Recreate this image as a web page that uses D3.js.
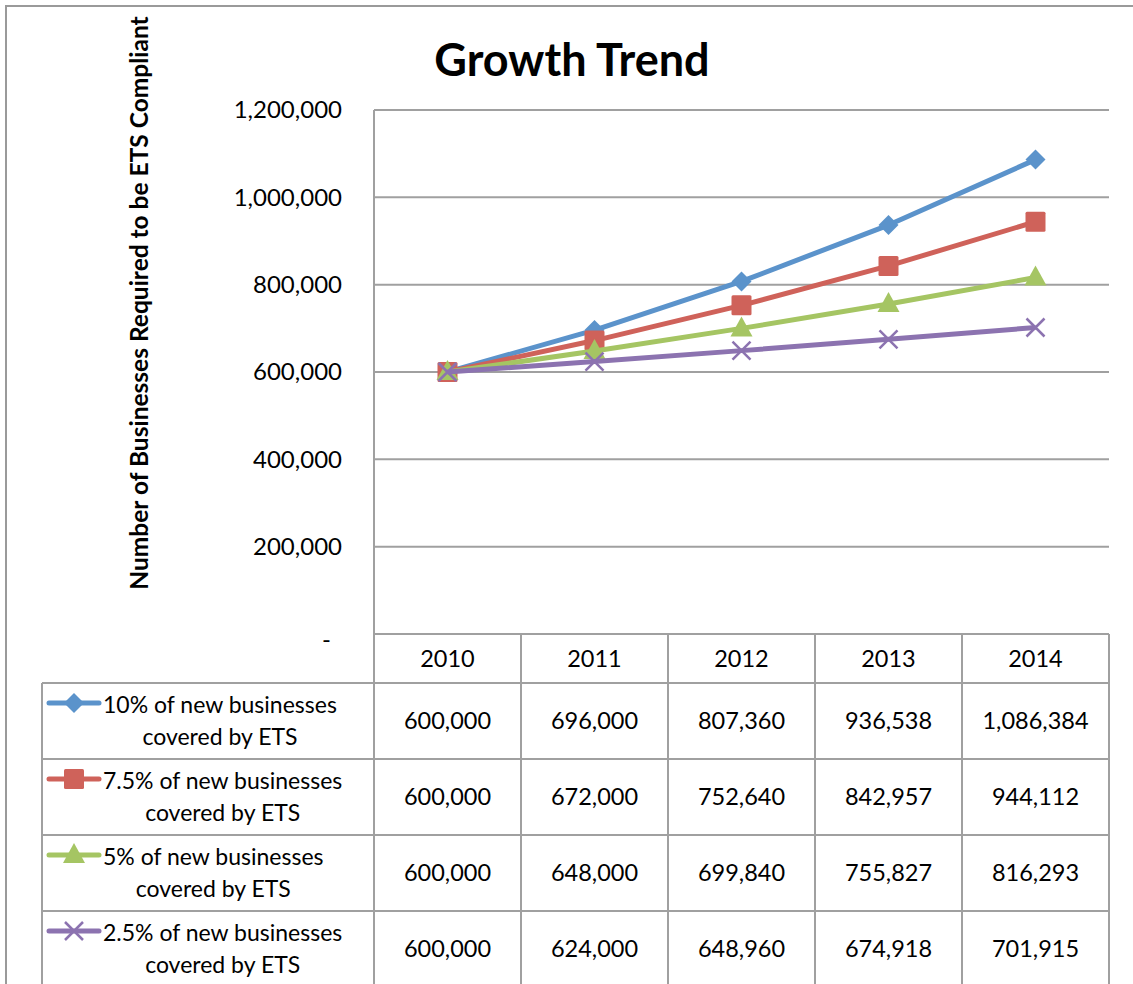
<!DOCTYPE html>
<html>
<head>
<meta charset="utf-8">
<script src="https://cdn.jsdelivr.net/npm/d3@7"></script>
<style>
  body { margin: 0; background: #fff; }
  text { font-family: Lato, "Liberation Sans", sans-serif; fill: #000; }
</style>
</head>
<body>
<script>
// chart data
var years = ["2010", "2011", "2012", "2013", "2014"];
var seriesNames = [
  ["10% of new businesses", "covered by ETS"],
  ["7.5% of new businesses", "covered by ETS"],
  ["5% of new businesses", "covered by ETS"],
  ["2.5% of new businesses", "covered by ETS"]
];
var s10 = [600000, 696000, 807360, 936538, 1086384];
var s75 = [600000, 672000, 752640, 842957, 944112];
var s5 = [600000, 648000, 699840, 755827, 816293];
var s25 = [600000, 624000, 648960, 674918, 701915];
var yTicks = [0, 200000, 400000, 600000, 800000, 1000000, 1200000];

var allSeries = [s10, s75, s5, s25];
var colors = ["#5b93cb", "#cf625a", "#a5c563", "#8c73b0"];
var markers = ["diamond", "square", "triangle", "cross"];

var width = 1133, height = 984;
var svg = d3.select("body").append("svg")
  .attr("width", width).attr("height", height);

var gridColor = "#a0a0a0";
var fs = 23.5;

// outer chart border
svg.append("rect")
  .attr("x", 6).attr("y", 6)
  .attr("width", 1140).attr("height", 1000)
  .attr("fill", "none").attr("stroke", "#9a9a9a").attr("stroke-width", 2);

var plotLeft = 374, plotRight = 1109, plotTop = 110, plotBottom = 634;

var x = d3.scaleBand().domain(years).range([plotLeft, plotRight]);
var y = d3.scaleLinear().domain([0, 1200000]).range([plotBottom, plotTop]);

// title
svg.append("text")
  .attr("x", 572).attr("y", 76)
  .attr("text-anchor", "middle")
  .attr("font-size", 45).attr("font-weight", "bold")
  .text("Growth Trend");

// y axis title
svg.append("text")
  .attr("transform", "translate(148,303) rotate(-90)")
  .attr("text-anchor", "middle")
  .attr("font-size", 24.5).attr("font-weight", "bold")
  .text("Number of Businesses Required to be ETS Compliant");

// gridlines
svg.append("g").selectAll("line").data(yTicks.slice(1)).enter()
  .append("line")
  .attr("x1", plotLeft).attr("x2", plotRight)
  .attr("y1", function(d) { return y(d); })
  .attr("y2", function(d) { return y(d); })
  .attr("stroke", gridColor).attr("stroke-width", 2);

// y axis
var yAxis = d3.axisLeft(y).tickValues(yTicks).tickSize(0).tickPadding(32)
  .tickFormat(function(d) { return d === 0 ? "-" : d3.format(",")(d); });
var yg = svg.append("g").attr("transform", "translate(" + plotLeft + ",0)").call(yAxis);
yg.select(".domain").remove();
yg.selectAll("text")
  .attr("font-family", "Lato, sans-serif").attr("font-size", 24).attr("fill", "#000");
// accounting-style dash sits a bit left and low
yg.selectAll(".tick").filter(function(d) { return d === 0; }).select("text")
  .attr("dx", -11).attr("dy", "0.55em");

// data table
var header = 683;
var rowH = 76;
var tableLines = svg.append("g").attr("stroke", gridColor).attr("stroke-width", 2);

tableLines.append("line").attr("x1", plotLeft).attr("x2", plotRight)
  .attr("y1", plotBottom).attr("y2", plotBottom);
tableLines.selectAll(".hrow").data(d3.range(allSeries.length)).enter()
  .append("line")
  .attr("x1", 42).attr("x2", plotRight)
  .attr("y1", function(i) { return header + i * rowH; })
  .attr("y2", function(i) { return header + i * rowH; });
tableLines.append("line").attr("x1", 42).attr("x2", 42)
  .attr("y1", header).attr("y2", height);
tableLines.append("line").attr("x1", plotLeft).attr("x2", plotLeft)
  .attr("y1", plotTop).attr("y2", height);
tableLines.selectAll(".vcol").data(years).enter()
  .append("line")
  .attr("x1", function(d) { return x(d) + x.bandwidth(); })
  .attr("x2", function(d) { return x(d) + x.bandwidth(); })
  .attr("y1", plotBottom).attr("y2", height);

// header years
svg.append("g").selectAll("text").data(years).enter()
  .append("text")
  .attr("x", function(d) { return x(d) + x.bandwidth() / 2; })
  .attr("y", (plotBottom + header) / 2)
  .attr("dy", "0.35em")
  .attr("text-anchor", "middle")
  .attr("font-size", fs)
  .text(function(d) { return d; });

// table values
allSeries.forEach(function(s, i) {
  svg.append("g").selectAll("text").data(s).enter()
    .append("text")
    .attr("x", function(d, j) { return x(years[j]) + x.bandwidth() / 2; })
    .attr("y", header + i * rowH + rowH / 2)
    .attr("dy", "0.35em")
    .attr("text-anchor", "middle")
    .attr("font-size", fs)
    .text(function(d) { return d3.format(",")(d); });
});

function drawMarker(g, type, cx, cy, color) {
  if (type === "diamond") {
    g.append("path")
      .attr("d", "M" + cx + "," + (cy - 10) + "L" + (cx + 10) + "," + cy + "L" + cx + "," + (cy + 10) + "L" + (cx - 10) + "," + cy + "Z")
      .attr("fill", color);
  } else if (type === "square") {
    g.append("rect")
      .attr("x", cx - 10).attr("y", cy - 10)
      .attr("width", 20).attr("height", 20)
      .attr("rx", 1.5)
      .attr("fill", color);
  } else if (type === "triangle") {
    g.append("path")
      .attr("d", "M" + cx + "," + (cy - 12) + "L" + (cx + 11) + "," + (cy + 8) + "L" + (cx - 11) + "," + (cy + 8) + "Z")
      .attr("fill", color);
  } else {
    g.append("path")
      .attr("d", "M" + (cx - 9) + "," + (cy - 9) + "L" + (cx + 9) + "," + (cy + 9) + "M" + (cx + 9) + "," + (cy - 9) + "L" + (cx - 9) + "," + (cy + 9))
      .attr("stroke", color).attr("stroke-width", 2.5).attr("fill", "none");
  }
}

// lines and markers
var line = d3.line()
  .x(function(d, j) { return x(years[j]) + x.bandwidth() / 2; })
  .y(function(d) { return y(d); });

allSeries.forEach(function(s, i) {
  var g = svg.append("g");
  g.append("path")
    .datum(s)
    .attr("d", line)
    .attr("fill", "none")
    .attr("stroke", colors[i])
    .attr("stroke-width", 5)
    .attr("stroke-linejoin", "round");
  s.forEach(function(d, j) {
    drawMarker(g, markers[i], x(years[j]) + x.bandwidth() / 2, y(d), colors[i]);
  });
});

// legend keys in table
seriesNames.forEach(function(names, i) {
  var top = header + i * rowH;
  var g = svg.append("g");
  g.append("line")
    .attr("x1", 49).attr("x2", 99)
    .attr("y1", top + 20).attr("y2", top + 20)
    .attr("stroke", colors[i]).attr("stroke-width", 5).attr("stroke-linecap", "round");
  drawMarker(g, markers[i], 74, top + 20, colors[i]);
  var t1 = g.append("text")
    .attr("x", 103).attr("y", top + 30)
    .attr("font-size", 23)
    .text(names[0]);
  var w = t1.node().getComputedTextLength();
  g.append("text")
    .attr("x", 103 + w / 2).attr("y", top + 62)
    .attr("text-anchor", "middle")
    .attr("font-size", 23)
    .text(names[1]);
});
</script>
</body>
</html>
